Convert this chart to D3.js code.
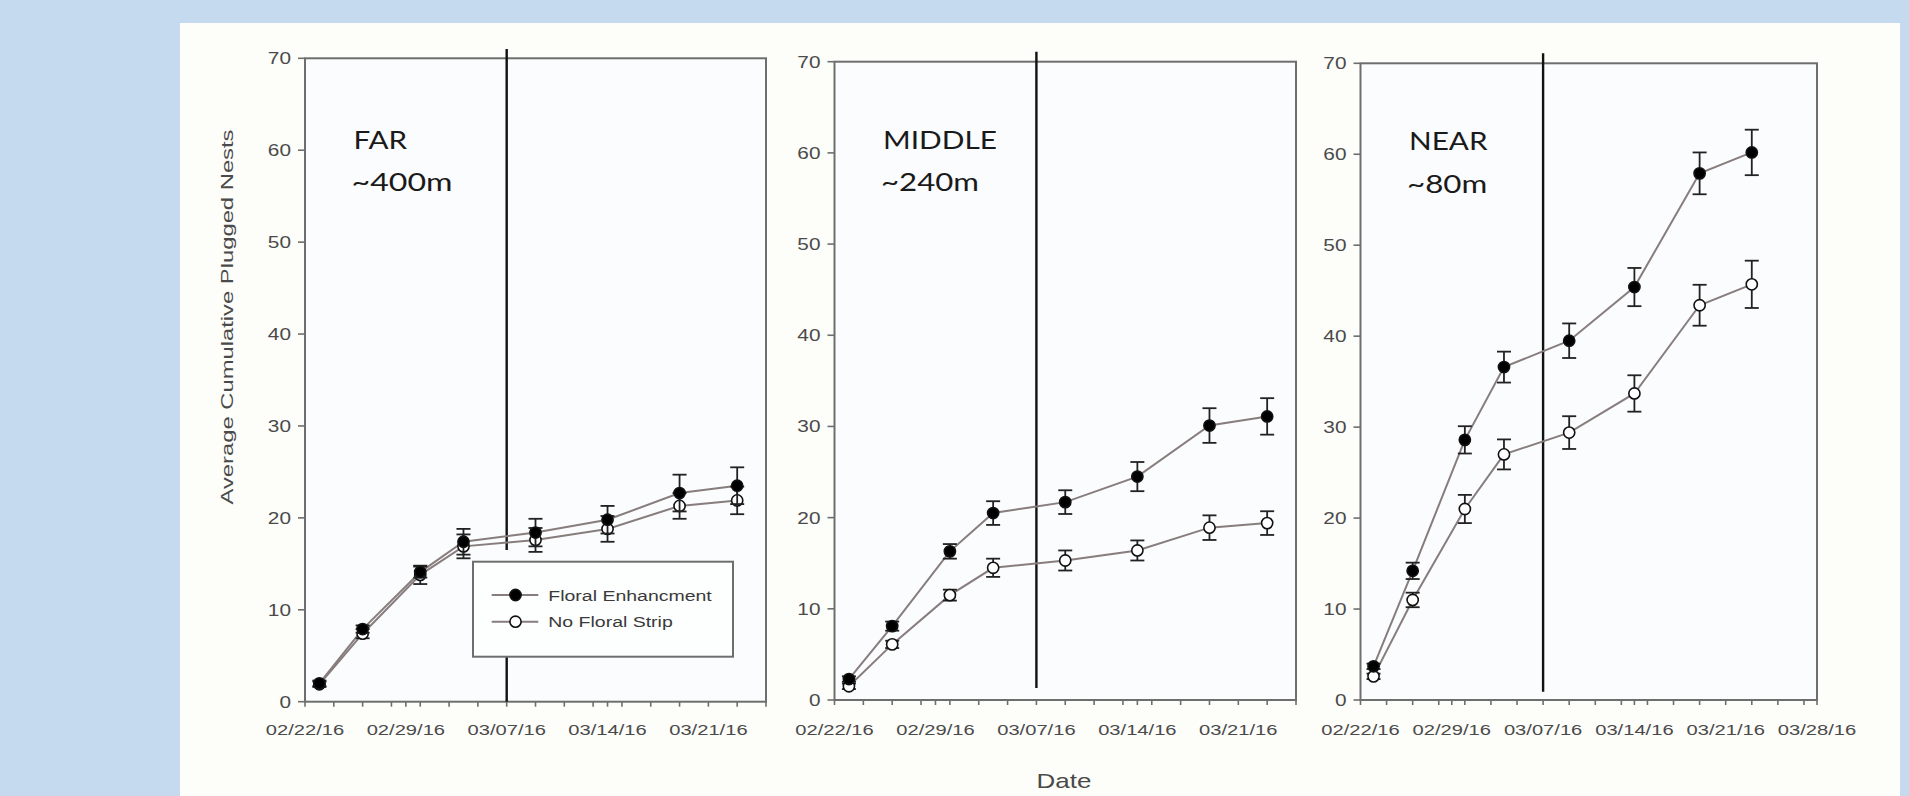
<!DOCTYPE html>
<html><head><meta charset="utf-8">
<script src="https://cdnjs.cloudflare.com/ajax/libs/d3/7.8.5/d3.min.js"></script>
<style>html,body{margin:0;padding:0;background:#c5d9ef;overflow:hidden}</style>
</head><body><svg id="c" width="1909" height="796"></svg>
<script>
// ---- data ----
const dates = ["02/23/16","02/26/16","03/01/16","03/04/16","03/09/16","03/14/16","03/19/16","03/23/16"];
const tickLabels = ["02/22/16","02/29/16","03/07/16","03/14/16","03/21/16","03/28/16"];
const yTicks = [0,10,20,30,40,50,60,70];
const seriesNames = ["Floral Enhancment","No Floral Strip"];
const panelNames = ["FAR","MIDDLE","NEAR"];
const panelDist = ["~400m","~240m","~80m"];
const treatmentDate = "03/07/16";

const farFloral      = [2.0, 7.9, 14.1, 17.4, 18.4, 19.8, 22.7, 23.5];
const farFloralErr   = [0.3, 0.4, 0.6, 1.4, 1.5, 1.5, 2.0, 2.0];
const farNone        = [1.9, 7.4, 13.8, 16.9, 17.6, 18.8, 21.3, 21.9];
const farNoneErr     = [0.3, 0.5, 1.0, 1.3, 1.3, 1.4, 1.4, 1.5];

const midFloral      = [2.3, 8.1, 16.3, 20.5, 21.7, 24.5, 30.1, 31.1];
const midFloralErr   = [0.3, 0.5, 0.8, 1.3, 1.3, 1.6, 1.9, 2.0];
const midNone        = [1.5, 6.1, 11.5, 14.5, 15.3, 16.4, 18.9, 19.4];
const midNoneErr     = [0.3, 0.4, 0.6, 1.0, 1.1, 1.1, 1.35, 1.3];

const nearFloral     = [3.7, 14.2, 28.6, 36.6, 39.5, 45.4, 57.9, 60.2];
const nearFloralErr  = [0.3, 0.9, 1.5, 1.7, 1.9, 2.1, 2.3, 2.5];
const nearNone       = [2.6, 11.0, 21.0, 27.0, 29.4, 33.7, 43.4, 45.7];
const nearNoneErr    = [0.3, 0.8, 1.55, 1.65, 1.8, 2.0, 2.25, 2.6];

const xStart = "02/22/16";
const xEnds = ["03/25/16","03/25/16","03/28/16"];

// ---- layout ----
const parse = d3.utcParse("%m/%d/%y");
const SX = 1.3;
const FONT = "'Liberation Sans', Arial, sans-serif";
const layout = [
  {left:305,  right:766,  top:58.3, bottom:701.7, vTop:49, vBot:701.7, legend:true},
  {left:834.5,right:1296, top:61.7, bottom:700,   vTop:51.7, vBot:688},
  {left:1360.5,right:1817,top:63.3, bottom:700,   vTop:53.3, vBot:691.7}
];
const panelData = [
  [farFloral, farFloralErr, farNone, farNoneErr],
  [midFloral, midFloralErr, midNone, midNoneErr],
  [nearFloral, nearFloralErr, nearNone, nearNoneErr]
];
const annWidths = [[53.7,101],[114,98],[78.6,80.3]];

const svg = d3.select("#c");
svg.append("rect").attr("x",180).attr("y",23).attr("width",1720).attr("height",773).attr("fill","#fdfdfa");

function stext(g, x, y, str, size, anchor, fill){
  return g.append("text").attr("transform",`translate(${x},${y}) scale(${SX},1)`)
    .attr("text-anchor",anchor).attr("font-family",FONT).attr("font-size",size)
    .attr("fill",fill||"#444").text(str);
}

const lineCol = "#877d7d", frameCol = "#6e6e6e";

layout.forEach((L,pi)=>{
  const g = svg.append("g");
  const x = d3.scaleUtc().domain([parse(xStart), parse(xEnds[pi])]).range([L.left, L.right]);
  const y = d3.scaleLinear().domain([0,70]).range([L.bottom, L.top]);
  g.append("rect").attr("x",L.left).attr("y",L.top).attr("width",L.right-L.left).attr("height",L.bottom-L.top).attr("fill","#fbfcfd");

  // minor ticks every 2 days, major weekly
  const minor = d3.utcDay.range(parse(xStart), d3.utcDay.offset(parse(xEnds[pi]),1)).filter((d,i)=>i%2===0 || i%7===0);
  g.selectAll(".mt").data(minor).join("line")
    .attr("x1",d=>x(d)).attr("x2",d=>x(d)).attr("y1",L.bottom).attr("y2",L.bottom+5)
    .attr("stroke",frameCol).attr("stroke-width",1.6);
  // y ticks
  g.selectAll(".yt").data(yTicks).join("line")
    .attr("x1",L.left-7).attr("x2",L.left).attr("y1",d=>y(d)).attr("y2",d=>y(d))
    .attr("stroke",frameCol).attr("stroke-width",1.6);
  yTicks.forEach(t=> stext(g, L.left-14, y(t)+6, String(t), 16, "end", "#4a4a4a"));
  tickLabels.filter(t=>parse(t)<=parse(xEnds[pi])).forEach(t=> stext(g, x(parse(t)), 735, t, 15.5, "middle", "#4a4a4a"));

  // frame
  g.append("rect").attr("x",L.left).attr("y",L.top).attr("width",L.right-L.left).attr("height",L.bottom-L.top)
    .attr("fill","none").attr("stroke",frameCol).attr("stroke-width",2);

  // treatment vertical line
  const vx = x(parse(treatmentDate));
  if (L.legend){
    g.append("line").attr("x1",vx).attr("x2",vx).attr("y1",L.vTop).attr("y2",550).attr("stroke","#111").attr("stroke-width",2.4);
    g.append("line").attr("x1",vx).attr("x2",vx).attr("y1",656).attr("y2",L.vBot).attr("stroke","#111").attr("stroke-width",2.4);
  } else {
    g.append("line").attr("x1",vx).attr("x2",vx).attr("y1",L.vTop).attr("y2",L.vBot).attr("stroke","#111").attr("stroke-width",2.4);
  }

  const [fv, fe, nv, ne] = panelData[pi];
  const series = [{v:nv,e:ne,fill:"#ffffff"},{v:fv,e:fe,fill:"#000"}];
  const line = d3.line().x((d,i)=>x(parse(dates[i]))).y(d=>y(d));
  series.forEach(s=>{
    g.append("path").attr("d",line(s.v)).attr("fill","none").attr("stroke",lineCol).attr("stroke-width",2);
  });
  series.forEach(s=>{
    s.v.forEach((v,i)=>{
      const cx = x(parse(dates[i]));
      const y1 = y(v+s.e[i]), y2 = y(v-s.e[i]);
      g.append("line").attr("x1",cx).attr("x2",cx).attr("y1",y1).attr("y2",y2).attr("stroke","#222").attr("stroke-width",1.8);
      [y1,y2].forEach(yy=> g.append("line").attr("x1",cx-7).attr("x2",cx+7).attr("y1",yy).attr("y2",yy).attr("stroke","#222").attr("stroke-width",1.8));
    });
    g.selectAll(null).data(s.v).join("circle")
      .attr("cx",(d,i)=>x(parse(dates[i]))).attr("cy",d=>y(d)).attr("r",5.6)
      .attr("fill",s.fill).attr("stroke","#111").attr("stroke-width",1.6);
  });

  // annotations
  const ax = L.left + 48.5;
  g.append("text").attr("x",ax).attr("y",148.5+ (pi===2?1.5:0)).attr("font-family","Lato, 'Open Sans', sans-serif").attr("font-size",24.5)
    .attr("fill","#1a1a1a").attr("textLength",annWidths[pi][0]).attr("lengthAdjust","spacingAndGlyphs").text(panelNames[pi]);
  g.append("text").attr("x",ax-2).attr("y",191+(pi===2?2:0)).attr("font-family","Lato, 'Open Sans', sans-serif").attr("font-size",24.5)
    .attr("fill","#1a1a1a").attr("textLength",annWidths[pi][1]).attr("lengthAdjust","spacingAndGlyphs").text(panelDist[pi]);

  if (L.legend){
    const lg = g.append("g");
    lg.append("rect").attr("x",473).attr("y",561.7).attr("width",260).attr("height",95)
      .attr("fill","#fdfefe").attr("stroke",frameCol).attr("stroke-width",2);
    const rows = [{name:seriesNames[0],fill:"#000",yy:595},{name:seriesNames[1],fill:"#fff",yy:621.7}];
    rows.forEach(r=>{
      lg.append("line").attr("x1",491.7).attr("x2",538.3).attr("y1",r.yy).attr("y2",r.yy).attr("stroke",lineCol).attr("stroke-width",2);
      lg.append("circle").attr("cx",515.5).attr("cy",r.yy).attr("r",5.6).attr("fill",r.fill).attr("stroke","#111").attr("stroke-width",1.6);
      stext(lg, 548.3, r.yy+5.5, r.name, 15, "start", "#3a3a3a");
    });
  }
});

// axis titles
svg.append("text").attr("transform","translate(233,317) rotate(-90)").attr("text-anchor","middle")
  .attr("font-family",FONT).attr("font-size",17).attr("fill","#4a4a4a")
  .attr("textLength",375).attr("lengthAdjust","spacingAndGlyphs").text("Average Cumulative Plugged Nests");
stext(svg, 1064, 788, "Date", 20, "middle", "#4a4a4a");
</script></body></html>
